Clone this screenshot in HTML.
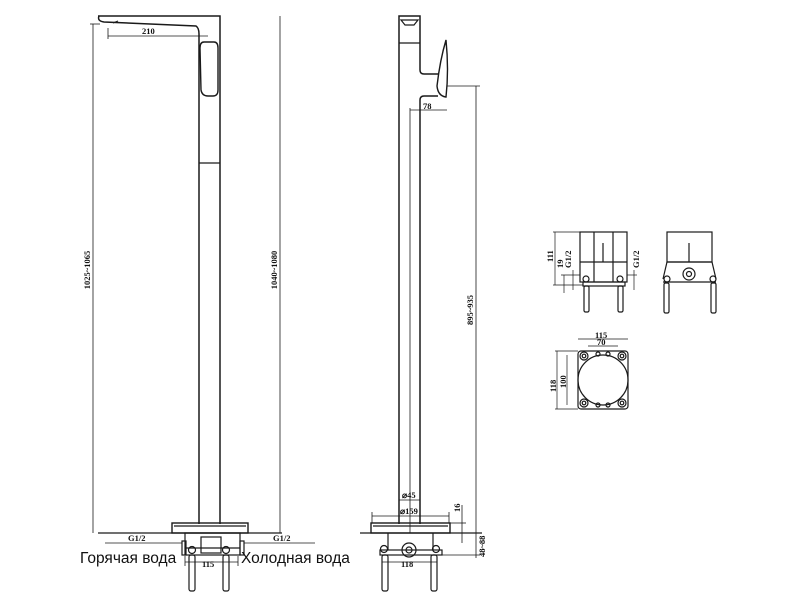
<!DOCTYPE html>
<html><head><meta charset="utf-8"><style>
html,body{margin:0;padding:0;background:#fff;}
svg{display:block}
text{font-family:"Liberation Serif",serif;font-size:8.5px;font-weight:bold;fill:#111}
.t{font-family:"Liberation Sans","DejaVu Sans",sans-serif;font-size:15.5px;font-weight:normal;fill:#111}
</style></head><body>
<svg width="800" height="600" viewBox="0 0 800 600" xmlns="http://www.w3.org/2000/svg">
<g fill="none" stroke="#1a1a1a" stroke-width="1.2">
<!-- FRONT VIEW -->
<path d="M98 16 L220 16 L220 524 M99 16 Q97 21 104 22 L196 26 Q199 28 199 34 L199 524" stroke-width="1.5"/>
<path d="M113 23 L118 21"/>
<path d="M204 42 Q200 42 200 48 L201 90 Q202 96 208 96 L213 96 Q218 96 218 90 L218 48 Q218 42 214 42 Z" stroke-width="1.4"/>
<line x1="199" y1="163" x2="220" y2="163"/>
<rect x="172" y="523" width="76" height="10" stroke-width="1.4"/>
<line x1="174" y1="526" x2="246" y2="526"/>
<line x1="98" y1="533" x2="282" y2="533"/>
<line x1="93" y1="24" x2="93" y2="533" stroke-width="0.8"/>
<line x1="90" y1="24" x2="100" y2="24" stroke-width="0.8"/>
<line x1="280" y1="16" x2="280" y2="533" stroke-width="0.8"/>
<line x1="108" y1="36" x2="208" y2="36" stroke-width="0.8"/>
<line x1="108" y1="28" x2="108" y2="39" stroke-width="0.8"/>
<rect x="185" y="533" width="55" height="22"/>
<rect x="201" y="537" width="20" height="16"/>
<line x1="186" y1="548" x2="240" y2="548"/>
<circle cx="192" cy="550" r="3.5"/><circle cx="226" cy="550" r="3.5"/>
<rect x="182" y="541" width="4" height="14"/><rect x="240" y="541" width="4" height="14"/>
<rect x="189" y="555" width="6" height="36" rx="2"/><rect x="223" y="555" width="6" height="36" rx="2"/>
<line x1="105" y1="543" x2="182" y2="543" stroke-width="0.8"/>
<line x1="244" y1="543" x2="315" y2="543" stroke-width="0.8"/>
<line x1="185" y1="562" x2="238" y2="562" stroke-width="0.8"/>
<line x1="185" y1="556" x2="185" y2="566" stroke-width="0.8"/><line x1="238" y1="556" x2="238" y2="566" stroke-width="0.8"/>

<!-- SIDE VIEW -->
<path d="M399 524 L399 16 L420 16 L420 70 Q420 74 424 74 L438 74 M438 96 L424 96 Q420 96 420 100 L420 524" stroke-width="1.5"/>
<line x1="399" y1="43" x2="420" y2="43"/>
<path d="M401 20 L418 20 L414 25 L405 25 Z"/>
<path d="M446 40 Q440 60 437 86 Q438 96 446 97 Q449 70 446 40 Z" stroke-width="1.4"/>
<rect x="371" y="523" width="79" height="10" stroke-width="1.4"/>
<line x1="373" y1="526" x2="448" y2="526"/>
<line x1="360" y1="533" x2="482" y2="533"/>
<line x1="410" y1="110" x2="447" y2="110" stroke-width="0.8"/>
<line x1="410" y1="108" x2="410" y2="533" stroke-width="0.8"/>
<line x1="447" y1="86" x2="480" y2="86" stroke-width="0.8"/>
<line x1="476" y1="86" x2="476" y2="533" stroke-width="0.8"/>
<line x1="399" y1="500" x2="420" y2="500" stroke-width="0.8"/>
<line x1="372" y1="516" x2="449" y2="516" stroke-width="0.8"/>
<line x1="372" y1="512" x2="372" y2="523" stroke-width="0.8"/><line x1="449" y1="512" x2="449" y2="523" stroke-width="0.8"/>
<line x1="462" y1="505" x2="462" y2="543" stroke-width="0.8"/>
<line x1="450" y1="523" x2="466" y2="523" stroke-width="0.8"/>
<line x1="476" y1="533" x2="476" y2="558" stroke-width="0.8"/>
<line x1="440" y1="555" x2="480" y2="555" stroke-width="0.8"/>
<line x1="388" y1="533" x2="388" y2="550"/><line x1="433" y1="533" x2="433" y2="550"/>
<rect x="380" y="550" width="62" height="5"/>
<circle cx="409" cy="550" r="7"/><circle cx="409" cy="550" r="3"/>
<circle cx="384" cy="549" r="3.5"/><circle cx="436" cy="549" r="3.5"/>
<rect x="382" y="555" width="6" height="36" rx="2"/><rect x="431" y="555" width="6" height="36" rx="2"/>
<line x1="382" y1="562" x2="437" y2="562" stroke-width="0.8"/>

<!-- SMALL VIEWS -->
<rect x="580" y="232" width="47" height="50"/>
<line x1="580" y1="262" x2="627" y2="262"/>
<line x1="594" y1="232" x2="594" y2="282"/><line x1="613" y1="232" x2="613" y2="282"/>
<line x1="603" y1="243" x2="603" y2="262"/>
<rect x="583" y="282" width="42" height="4"/>
<circle cx="586" cy="279" r="3"/><circle cx="620" cy="279" r="3"/>
<rect x="584" y="286" width="5" height="26" rx="1.5"/><rect x="618" y="286" width="5" height="26" rx="1.5"/>
<line x1="553" y1="232" x2="580" y2="232" stroke-width="0.7"/>
<line x1="555" y1="232" x2="555" y2="285" stroke-width="0.7"/>
<line x1="553" y1="285" x2="583" y2="285" stroke-width="0.7"/>
<line x1="564" y1="275" x2="564" y2="293" stroke-width="0.7"/>
<line x1="561" y1="275" x2="580" y2="275" stroke-width="0.7"/>
<line x1="573" y1="270" x2="573" y2="290" stroke-width="0.7"/>
<line x1="634" y1="270" x2="634" y2="290" stroke-width="0.7"/>
<line x1="627" y1="275" x2="637" y2="275" stroke-width="0.7"/>

<rect x="667" y="232" width="45" height="30"/>
<line x1="689" y1="243" x2="689" y2="262"/>
<path d="M663 279 L667 262 L712 262 L716 279"/>
<line x1="663" y1="282" x2="716" y2="282"/>
<circle cx="689" cy="274" r="6"/><circle cx="689" cy="274" r="2.5"/>
<circle cx="667" cy="279" r="3"/><circle cx="713" cy="279" r="3"/>
<rect x="664" y="283" width="5" height="30" rx="1.5"/><rect x="711" y="283" width="5" height="30" rx="1.5"/>

<rect x="578" y="351" width="50" height="58" rx="3"/>
<circle cx="603" cy="380" r="25"/>
<circle cx="584" cy="356" r="4"/><circle cx="584" cy="356" r="1.8"/>
<circle cx="622" cy="356" r="4"/><circle cx="622" cy="356" r="1.8"/>
<circle cx="584" cy="403" r="4"/><circle cx="584" cy="403" r="1.8"/>
<circle cx="622" cy="403" r="4"/><circle cx="622" cy="403" r="1.8"/>
<circle cx="598" cy="354" r="2"/><circle cx="608" cy="354" r="2"/>
<circle cx="598" cy="405" r="2"/><circle cx="608" cy="405" r="2"/>
<line x1="578" y1="339" x2="628" y2="339" stroke-width="0.7"/>
<line x1="588" y1="346" x2="618" y2="346" stroke-width="0.7"/>
<line x1="557" y1="351" x2="557" y2="409" stroke-width="0.7"/>
<line x1="567" y1="355" x2="567" y2="405" stroke-width="0.7"/>
<line x1="555" y1="351" x2="578" y2="351" stroke-width="0.7"/>
<line x1="555" y1="409" x2="578" y2="409" stroke-width="0.7"/>
</g>
<text x="142" y="34">210</text>
<text transform="translate(90,270) rotate(-90)" text-anchor="middle">1025~1065</text>
<text transform="translate(277,270) rotate(-90)" text-anchor="middle">1040~1080</text>
<text x="128" y="541">G1/2</text>
<text x="273" y="541">G1/2</text>
<text x="202" y="567">115</text>
<text class="t" x="80" y="563">Горячая вода</text>
<text class="t" x="241" y="563">Холодная вода</text>
<text x="423" y="109">78</text>
<text transform="translate(473,310) rotate(-90)" text-anchor="middle">895~935</text>
<text x="402" y="498">⌀45</text>
<text x="400" y="514">⌀159</text>
<text transform="translate(460,512) rotate(-90)">16</text>
<text transform="translate(485,557) rotate(-90)">48~88</text>
<text x="401" y="567">118</text>
<text transform="translate(553,262) rotate(-90)">111</text>
<text transform="translate(563,268) rotate(-90)">19</text>
<text transform="translate(571,268) rotate(-90)">G1/2</text>
<text transform="translate(639,268) rotate(-90)">G1/2</text>
<text x="595" y="338">115</text>
<text x="597" y="345">70</text>
<text transform="translate(556,392) rotate(-90)">118</text>
<text transform="translate(566,388) rotate(-90)">100</text>
</svg>
</body></html>
